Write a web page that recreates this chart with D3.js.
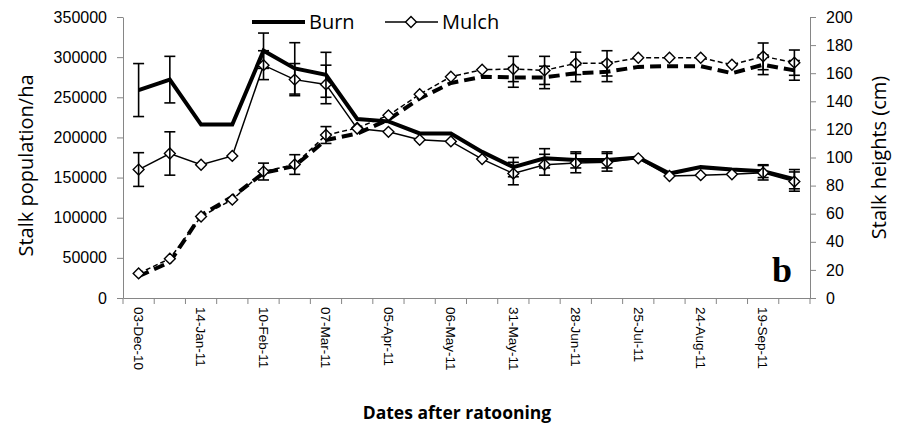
<!DOCTYPE html>
<html>
<head>
<meta charset="utf-8">
<script src="https://cdn.jsdelivr.net/npm/d3@7"></script>
<style>
  body { margin: 0; background: #fff; }
  svg { display: block; font-family: "Open Sans", sans-serif; }
  .axis path, .axis line { stroke: #868686; }
  .axis text { fill: #000; }
</style>
</head>
<body>
<div id="chart"></div>
<script>
// categories (every second label is hidden on the axis, like the original)
const dates = [
  "03-Dec-10", "24-Dec-10", "14-Jan-11", "27-Jan-11", "10-Feb-11", "24-Feb-11",
  "07-Mar-11", "21-Mar-11", "05-Apr-11", "20-Apr-11", "06-May-11", "18-May-11",
  "31-May-11", "14-Jun-11", "28-Jun-11", "12-Jul-11", "25-Jul-11", "10-Aug-11",
  "24-Aug-11", "06-Sep-11", "19-Sep-11", "03-Oct-11"
];

// stalk population per ha (left axis)
const burnPop = [259000, 272000, 216000, 216000, 308000, 286000, 278000, 223000, 220000, 205000, 205000, 182000,
  163000, 174000, 172000, 172000, 175000, 155000, 163000, 160000, 158000, 148000];
const mulchPop = [160000, 180000, 166000, 177000, 290000, 272000, 266000, 211000, 207000, 197000, 195000, 173000,
  155000, 166000, 168000, 169000, 174000, 152000, 153000, 154000, 156000, 145000];
const burnPopErr = [33000, 29000, null, null, 22000, 32000, 28000, null, null, null, null, null,
  12000, 12000, 10000, 10000, null, null, null, null, 8000, 12000];
const mulchPopErr = [21000, 27000, null, null, 18000, 20000, 24000, null, null, null, null, null,
  14000, 13000, 12000, 11000, null, null, null, null, 9000, 12000];

// stalk heights in cm (right axis)
const burnHeight = [15.5, 25.5, 59, 72, 89, 94, 112.5, 117, 127, 142, 153, 157.5,
  157, 157, 160, 161, 164.5, 165, 165, 160, 166, 162];
const mulchHeight = [17.5, 28, 58, 70, 90, 95, 116, 121, 130, 145, 157.5, 162.5,
  163, 162, 167, 167, 171, 171, 171, 166, 172, 167.5];
const burnHeightErr = [null, null, null, null, null, null, null, null, null, null, null, null,
  7, 8, 6, 7, null, null, null, null, 7, 7];
const mulchHeightErr = [null, null, null, null, 6, 7, 6, null, null, null, null, null,
  9, 10, 8, 9, null, null, null, null, 9.5, 9];

const popTicks = [0, 50000, 100000, 150000, 200000, 250000, 300000, 350000];
const heightTicks = [0, 20, 40, 60, 80, 100, 120, 140, 160, 180, 200];

const W = 912, H = 431;
const m = { left: 123, right: 810, top: 17, bottom: 298 };

const svg = d3.select("#chart").append("svg").attr("width", W).attr("height", H);

const x = d3.scaleBand().domain(dates).range([m.left, m.right]).padding(0);
const yL = d3.scaleLinear().domain([0, 350000]).range([m.bottom, m.top]);
const yR = d3.scaleLinear().domain([0, 200]).range([m.bottom, m.top]);
const cx = (i) => x(dates[i]) + x.bandwidth() / 2;

// axes
svg.append("g").attr("class", "axis")
  .attr("transform", `translate(${m.left},0)`)
  .call(d3.axisLeft(yL).tickValues(popTicks).tickSize(6).tickPadding(10).tickSizeOuter(0).tickFormat(d3.format("d")))
  .call((g) => g.selectAll("text").style("font-size", "16px"));

svg.append("g").attr("class", "axis")
  .attr("transform", `translate(${m.right},0)`)
  .call(d3.axisRight(yR).tickValues(heightTicks).tickSize(6).tickPadding(10).tickSizeOuter(0))
  .call((g) => g.selectAll("text").style("font-size", "16px"));

const xAxis = svg.append("g").attr("class", "axis")
  .attr("transform", `translate(0,${m.bottom})`)
  .call(d3.axisBottom(x).tickValues(dates.filter((d, i) => i % 2 === 0)).tickSize(0).tickSizeOuter(0))
  .call((g) => g.selectAll(".tick line").remove());
xAxis.selectAll("text")
  .attr("transform", "rotate(90)")
  .attr("x", 9).attr("y", 0).attr("dy", "0.35em")
  .style("text-anchor", "start").style("font-size", "13.5px");
// boundary ticks between categories
xAxis.selectAll("line.bound")
  .data(dates.concat(["end"]))
  .join("line").attr("class", "bound")
  .attr("x1", (d) => d === "end" ? m.right : x(d))
  .attr("x2", (d) => d === "end" ? m.right : x(d))
  .attr("y1", 0).attr("y2", 6)
  .attr("stroke", "#868686");

// axis titles
svg.append("text")
  .attr("transform", `translate(33,${(m.top + m.bottom) / 2 + 8}) rotate(-90)`)
  .attr("text-anchor", "middle").style("font-size", "20px")
  .text("Stalk population/ha");
svg.append("text")
  .attr("transform", `translate(886,${(m.top + m.bottom) / 2}) rotate(-90)`)
  .attr("text-anchor", "middle").style("font-size", "20px")
  .text("Stalk heights (cm)");
svg.append("text")
  .attr("x", 457).attr("y", 419)
  .attr("text-anchor", "middle").style("font-size", "17.5px").style("font-weight", "bold")
  .text("Dates after ratooning");

svg.append("text")
  .attr("x", 782).attr("y", 282)
  .attr("text-anchor", "middle")
  .style("font-family", "'Liberation Serif', serif").style("font-size", "36px").style("font-weight", "bold")
  .text("b");

const plot = svg.append("g");

function drawLine(values, y, width, dash) {
  plot.append("path")
    .datum(values)
    .attr("fill", "none").attr("stroke", "#000")
    .attr("stroke-width", width)
    .attr("stroke-linejoin", "miter")
    .attr("stroke-dasharray", dash)
    .attr("d", d3.line().x((d, i) => cx(i)).y((d) => y(d)));
}

function drawErr(values, errs, y) {
  const rows = values.map((v, i) => ({ i, v, e: errs[i] })).filter((d) => d.e != null);
  const g = plot.append("g").attr("stroke", "#000").attr("stroke-width", 1.6);
  rows.forEach((d) => {
    const xx = cx(d.i);
    const t = y(d.v + d.e), b = y(d.v - d.e);
    g.append("line").attr("x1", xx).attr("x2", xx).attr("y1", t).attr("y2", b);
    g.append("line").attr("x1", xx - 5.5).attr("x2", xx + 5.5).attr("y1", t).attr("y2", t);
    g.append("line").attr("x1", xx - 5.5).attr("x2", xx + 5.5).attr("y1", b).attr("y2", b);
  });
}

const diamond = d3.symbol().type(d3.symbolDiamond2).size(75);

function drawMarkers(values, y) {
  plot.append("g").selectAll("path")
    .data(values)
    .join("path")
    .attr("d", diamond)
    .attr("transform", (d, i) => `translate(${cx(i)},${y(d)})`)
    .attr("fill", "#fff").attr("stroke", "#000").attr("stroke-width", 1.4);
}

// heights (right axis)
drawLine(burnHeight, yR, 4, "11,6");
drawErr(burnHeight, burnHeightErr, yR);
drawLine(mulchHeight, yR, 1.5, "5,3");
drawMarkers(mulchHeight, yR);
drawErr(mulchHeight, mulchHeightErr, yR);

// populations (left axis)
drawLine(burnPop, yL, 4, null);
drawErr(burnPop, burnPopErr, yL);
drawLine(mulchPop, yL, 1.5, null);
drawMarkers(mulchPop, yL);
drawErr(mulchPop, mulchPopErr, yL);

// legend
const lg = svg.append("g");
lg.append("line").attr("x1", 252).attr("x2", 305).attr("y1", 22).attr("y2", 22)
  .attr("stroke", "#000").attr("stroke-width", 4);
lg.append("text").attr("x", 309).attr("y", 29).style("font-size", "20px").text("Burn");
lg.append("line").attr("x1", 385).attr("x2", 438).attr("y1", 22).attr("y2", 22)
  .attr("stroke", "#000").attr("stroke-width", 1.5);
lg.append("path").attr("d", diamond).attr("transform", "translate(411,22)")
  .attr("fill", "#fff").attr("stroke", "#000").attr("stroke-width", 1.4);
lg.append("text").attr("x", 442).attr("y", 29).style("font-size", "20px").text("Mulch");
</script>
</body>
</html>
